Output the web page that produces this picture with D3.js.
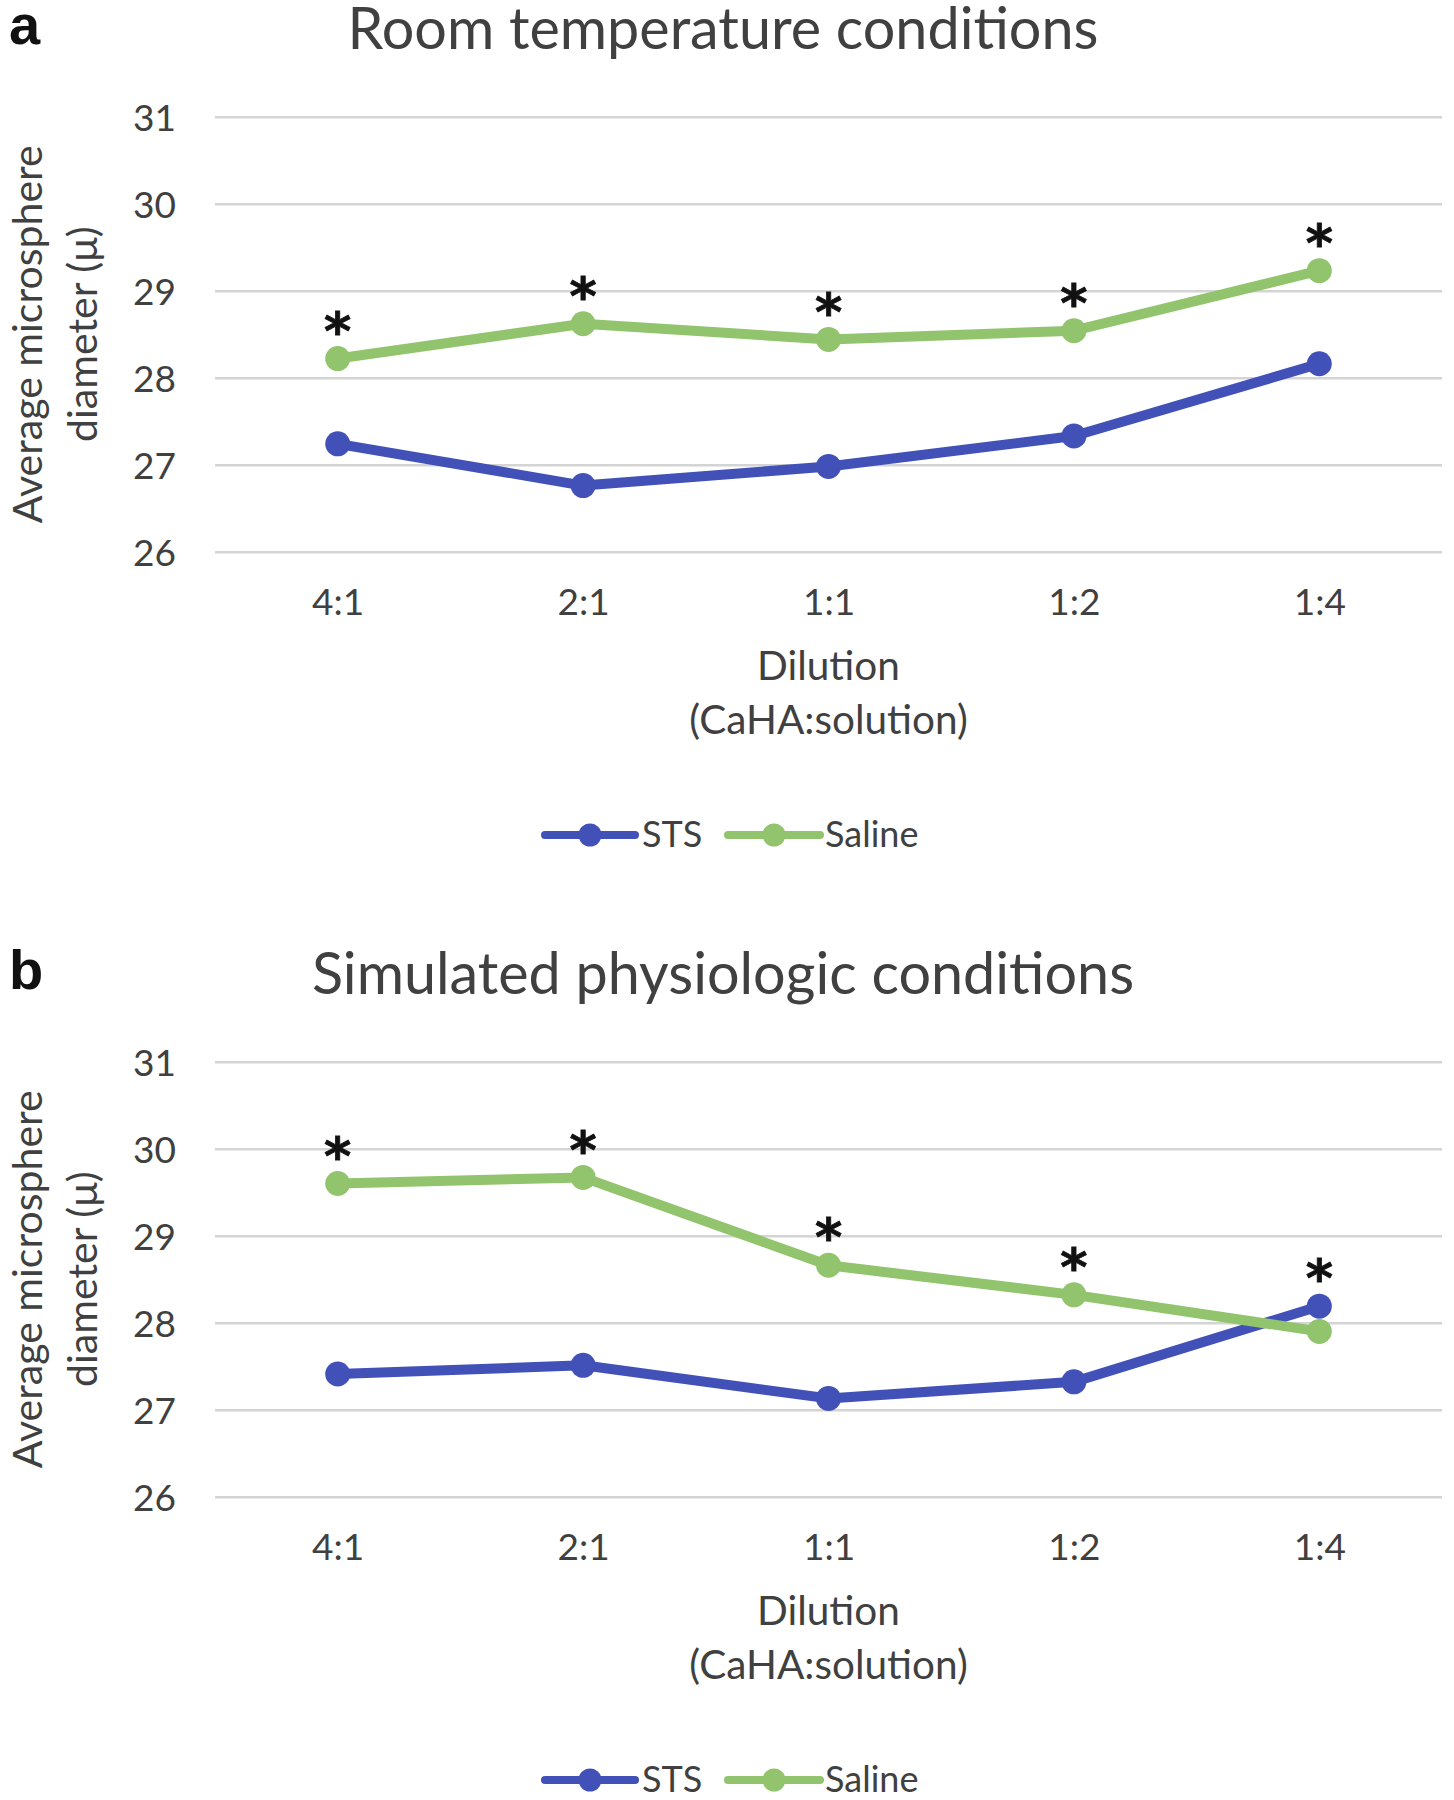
<!DOCTYPE html>
<html><head><meta charset="utf-8">
<script src="https://cdn.jsdelivr.net/npm/d3@7"></script>
<style>body{margin:0;background:#fff}svg{display:block}</style>
</head><body>
<svg id="c" width="1454" height="1800"></svg>
<script>
// ---- data ----
const categories = ["4:1", "2:1", "1:1", "1:2", "1:4"];
const stsRoom = [27.24, 26.76, 26.98, 27.33, 28.16];
const salineRoom = [28.22, 28.62, 28.44, 28.54, 29.23];
const stsPhys = [27.41, 27.51, 27.13, 27.32, 28.19];
const salinePhys = [29.60, 29.67, 28.66, 28.32, 27.90];
const sigRoom = ["*", "*", "*", "*", "*"];
const sigPhys = ["*", "*", "*", "*", "*"];
const yTicks = [26, 27, 28, 29, 30, 31];
const seriesNames = ["STS", "Saline"];
const panelLetters = ["a", "b"];
const panelTitles = ["Room temperature conditions", "Simulated physiologic conditions"];
const yTitleLines = ["Average microsphere", "diameter (\u03bc)"];
const xTitleLines = ["Dilution", "(CaHA:solution)"];

// ---- styles ----
const FONT = "Lato, 'Open Sans', sans-serif";
const TXT = "#404040";
const COLORS = ["#4151b8", "#91c46c"];
const panelOffset = 945;

const svg = d3.select("#c");
const x = d3.scalePoint().domain(categories).range([215, 1442]).padding(0.5);

const panels = [
  {sts: stsRoom, saline: salineRoom, sig: sigRoom},
  {sts: stsPhys, saline: salinePhys, sig: sigPhys}
];

panels.forEach((p, pi) => {
  const off = pi * panelOffset;
  const g = svg.append("g").attr("transform", `translate(0,${off})`);
  const y = d3.scaleLinear().domain([26, 31]).range([551.7, 116.7]);

  // panel letter
  g.append("text").attr("x", 9).attr("y", 44)
    .attr("font-family", "'Liberation Sans', Arial, sans-serif").attr("font-weight", "bold")
    .attr("font-size", 56).attr("fill", "#111").text(panelLetters[pi]);

  // title
  g.append("text").attr("x", 723).attr("y", 49).attr("text-anchor", "middle")
    .attr("font-family", FONT).attr("font-size", 57.5).attr("fill", TXT).text(panelTitles[pi]);

  // y axis with gridlines
  const yAxis = g.append("g").attr("transform", "translate(215,0)")
    .call(d3.axisLeft(y).tickValues(yTicks).tickFormat(d3.format("d"))
      .tickSize(-(1442 - 215)).tickPadding(39));
  yAxis.select(".domain").remove();
  yAxis.selectAll(".tick line").attr("stroke", "#d4d4d4").attr("stroke-width", 2.5);
  yAxis.selectAll(".tick text").attr("font-family", FONT).attr("font-size", 37)
    .attr("fill", TXT).attr("dy", "0.36em");

  // x axis labels
  const xAxis = g.append("g").attr("transform", `translate(0,${y(26)})`)
    .call(d3.axisBottom(x).tickSize(0));
  xAxis.select(".domain").remove();
  xAxis.selectAll(".tick text").attr("font-family", FONT).attr("font-size", 37)
    .attr("fill", TXT).attr("y", 63).attr("dy", 0);

  // axis titles
  const xt = g.append("text").attr("text-anchor", "middle").attr("font-family", FONT)
    .attr("font-size", 40.5).attr("fill", TXT);
  xt.append("tspan").attr("x", 828.5).attr("y", 680).text(xTitleLines[0]);
  xt.append("tspan").attr("x", 828.5).attr("y", 734).text(xTitleLines[1]);

  const yc = (y(26) + y(31)) / 2;
  const yt = g.append("text").attr("text-anchor", "middle").attr("font-family", FONT)
    .attr("font-size", 41).attr("fill", TXT)
    .attr("transform", `translate(0,${yc}) rotate(-90)`);
  yt.append("tspan").attr("x", 0).attr("y", 42).text(yTitleLines[0]);
  yt.append("tspan").attr("x", 0).attr("y", 97).text(yTitleLines[1]);

  // series
  const seriesData = [p.sts, p.saline];
  const line = d3.line().x((d, i) => x(categories[i])).y(d => y(d));
  seriesData.forEach((vals, si) => {
    g.append("path").datum(vals).attr("d", line).attr("fill", "none")
      .attr("stroke", COLORS[si]).attr("stroke-width", 10)
      .attr("stroke-linejoin", "round").attr("stroke-linecap", "round");
    g.selectAll(null).data(vals).enter().append("circle")
      .attr("cx", (d, i) => x(categories[i])).attr("cy", d => y(d))
      .attr("r", 12.5).attr("fill", COLORS[si]);
  });

  // significance asterisks above the higher point
  const AS = 52;
  p.sig.forEach((s, i) => {
    if (!s) return;
    const top = y(Math.max(p.sts[i], p.saline[i]));
    g.append("text").attr("x", x(categories[i]))
      .attr("y", top - 41 + AS * 0.6)
      .attr("text-anchor", "middle").attr("font-family", "'DejaVu Sans', sans-serif")
      .attr("font-weight", "bold").attr("font-size", AS).attr("fill", "#111")
      .attr("stroke", "#111").attr("stroke-width", 0.8).text(s);
  });

  // legend
  const legendY = 835;
  const items = [{x1: 545, x2: 635, tx: 642}, {x1: 728, x2: 820, tx: 825}];
  items.forEach((it, si) => {
    g.append("line").attr("x1", it.x1).attr("x2", it.x2).attr("y1", legendY).attr("y2", legendY)
      .attr("stroke", COLORS[si]).attr("stroke-width", 8).attr("stroke-linecap", "round");
    g.append("circle").attr("cx", (it.x1 + it.x2) / 2).attr("cy", legendY).attr("r", 11.5)
      .attr("fill", COLORS[si]);
    g.append("text").attr("x", it.tx).attr("y", legendY + 12).attr("font-family", FONT)
      .attr("font-size", 36).attr("fill", TXT).text(seriesNames[si]);
  });
});
</script>
</body></html>
